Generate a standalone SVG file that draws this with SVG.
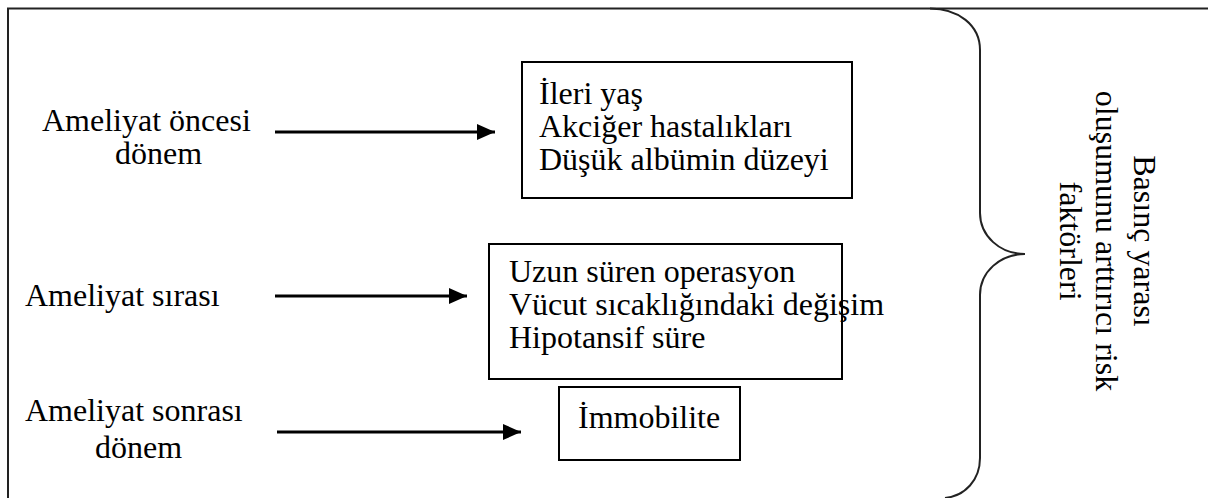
<svg xmlns="http://www.w3.org/2000/svg" width="1208" height="498" viewBox="0 0 1208 498">
<style>
text{font-family:"Liberation Serif","Times New Roman",serif;font-size:32px;fill:#000}
.box{fill:#fff;stroke:#000;stroke-width:2}
.arrow{stroke:#000;stroke-width:3;fill:none}
.frame{stroke:#222;stroke-width:2;fill:none}
</style>
<defs>
<marker id="ah" markerUnits="userSpaceOnUse" markerWidth="20" markerHeight="18" refX="18" refY="8" orient="auto">
<path d="M0,0 L18,8 L0,16 Z" fill="#000"/>
</marker>
</defs>
<g id="frame">
<path class="frame" d="M8,498 L8,8.5 L1208,8.5"/>
<path class="frame" stroke="#000" d="M930,8.5 C958,8.5 980,25 980,50 L980,213 C980,236 1000,254 1025,254 C1000,254 980,272 980,295 L980,458 C980,480 965,496 945,498"/>
</g>
<g id="phase-pre">
<text x="42" y="131">Ameliyat öncesi</text>
<text x="115" y="164">dönem</text>
</g>
<g id="phase-intra">
<text x="25" y="306">Ameliyat sırası</text>
</g>
<g id="phase-post">
<text x="25" y="421">Ameliyat sonrası</text>
<text x="95" y="458">dönem</text>
</g>
<g id="box-pre">
<rect class="box" x="522" y="62" width="330" height="136"/>
<text x="539" y="104">İleri yaş</text>
<text x="539" y="137">Akciğer hastalıkları</text>
<text x="539" y="170">Düşük albümin düzeyi</text>
</g>
<g id="box-intra">
<rect class="box" x="489" y="244" width="353" height="135"/>
<text x="509" y="282">Uzun süren operasyon</text>
<text x="509" y="315">Vücut sıcaklığındaki değişim</text>
<text x="509" y="348">Hipotansif süre</text>
</g>
<g id="box-post">
<rect class="box" x="559" y="387" width="181" height="73"/>
<text x="578" y="428">İmmobilite</text>
</g>
<g id="label-risk">
<g transform="translate(1134,241) rotate(90)">
<text x="0" y="0" text-anchor="middle">Basınç yarası</text>
</g>
<g transform="translate(1096,241) rotate(90)">
<text x="0" y="0" text-anchor="middle">oluşumunu arttırıcı risk</text>
</g>
<g transform="translate(1060,241) rotate(90)">
<text x="0" y="0" text-anchor="middle">faktörleri</text>
</g>
</g>
<g id="connectors">
<line class="arrow" x1="275" y1="132" x2="495" y2="132" marker-end="url(#ah)"/>
<line class="arrow" x1="275" y1="296" x2="467" y2="296" marker-end="url(#ah)"/>
<line class="arrow" x1="277" y1="432" x2="521" y2="432" marker-end="url(#ah)"/>
</g>
</svg>
